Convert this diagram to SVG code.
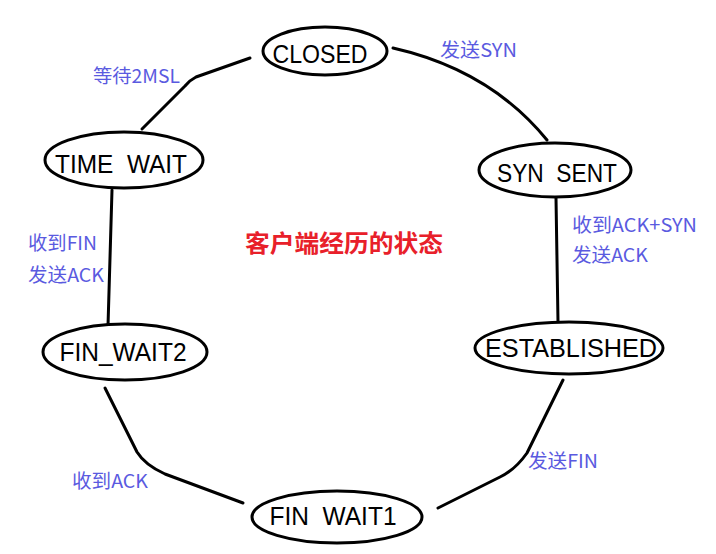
<svg xmlns="http://www.w3.org/2000/svg" width="716" height="554" viewBox="0 0 716 554">
<style>
.node ellipse{fill:#fff;stroke:#000;stroke-width:3}
.node text{font-family:"Liberation Sans",Arial,sans-serif;font-size:26px;fill:#000;text-anchor:middle}
.conn path{fill:none;stroke:#000;stroke-width:3;stroke-linecap:round;stroke-linejoin:round}
.lbl{font-family:"Noto Sans CJK SC","Liberation Sans",sans-serif;font-size:19px;fill:#5a5ae0}
.title{font-family:"Noto Sans CJK SC",sans-serif;font-size:24px;font-weight:bold;fill:#e8202a}
</style>
<rect width="716" height="554" fill="#fff"/>
<g class="conn" id="connectors">
<path d="M250,58 L196,77 Q190,80 185,86 L142,129"/>
<path d="M393,48 Q490,70 547,140"/>
<path d="M556,198 L558,322"/>
<path d="M563,380 L527,453 Q515,470 500,477 L438,508"/>
<path d="M243,503 L165,474 Q145,465 137,452 L105,388"/>
<path d="M112,190 L108,326"/>
</g>
<g class="node" id="closed"><ellipse cx="325" cy="51" rx="62" ry="24"/><text x="320" y="63" textLength="95" lengthAdjust="spacingAndGlyphs">CLOSED</text></g>
<g class="node" id="time_wait"><ellipse cx="124" cy="160" rx="79" ry="28"/><text xml:space="preserve" x="121" y="173" textLength="132" lengthAdjust="spacingAndGlyphs">TIME  WAIT</text></g>
<g class="node" id="syn_sent"><ellipse cx="555" cy="170" rx="76" ry="27"/><text xml:space="preserve" x="557" y="182" textLength="120" lengthAdjust="spacingAndGlyphs">SYN  SENT</text></g>
<g class="node" id="fin_wait2"><ellipse cx="125" cy="352" rx="82" ry="28"/><text x="123" y="361" textLength="127" lengthAdjust="spacingAndGlyphs">FIN_WAIT2</text></g>
<g class="node" id="established"><ellipse cx="569" cy="348" rx="94" ry="26"/><text x="571" y="357" textLength="172" lengthAdjust="spacingAndGlyphs">ESTABLISHED</text></g>
<g class="node" id="fin_wait1"><ellipse cx="337" cy="517" rx="85" ry="26"/><text xml:space="preserve" x="333" y="525" textLength="127" lengthAdjust="spacingAndGlyphs">FIN  WAIT1</text></g>
<g id="labels">
<text class="lbl" x="93" y="83" textLength="87" lengthAdjust="spacingAndGlyphs">等待2MSL</text>
<text class="lbl" x="440" y="57" textLength="77" lengthAdjust="spacingAndGlyphs">发送SYN</text>
<text class="lbl" x="572" y="232" textLength="125" lengthAdjust="spacingAndGlyphs">收到ACK+SYN</text>
<text class="lbl" x="572" y="262" textLength="76" lengthAdjust="spacingAndGlyphs">发送ACK</text>
<text class="lbl" x="28" y="250" textLength="69" lengthAdjust="spacingAndGlyphs">收到FIN</text>
<text class="lbl" x="28" y="282" textLength="76" lengthAdjust="spacingAndGlyphs">发送ACK</text>
<text class="lbl" x="528" y="468" textLength="70" lengthAdjust="spacingAndGlyphs">发送FIN</text>
<text class="lbl" x="72" y="488" textLength="76" lengthAdjust="spacingAndGlyphs">收到ACK</text>
<text class="title" x="245" y="252" textLength="198" lengthAdjust="spacingAndGlyphs">客户端经历的状态</text>
</g>
</svg>
